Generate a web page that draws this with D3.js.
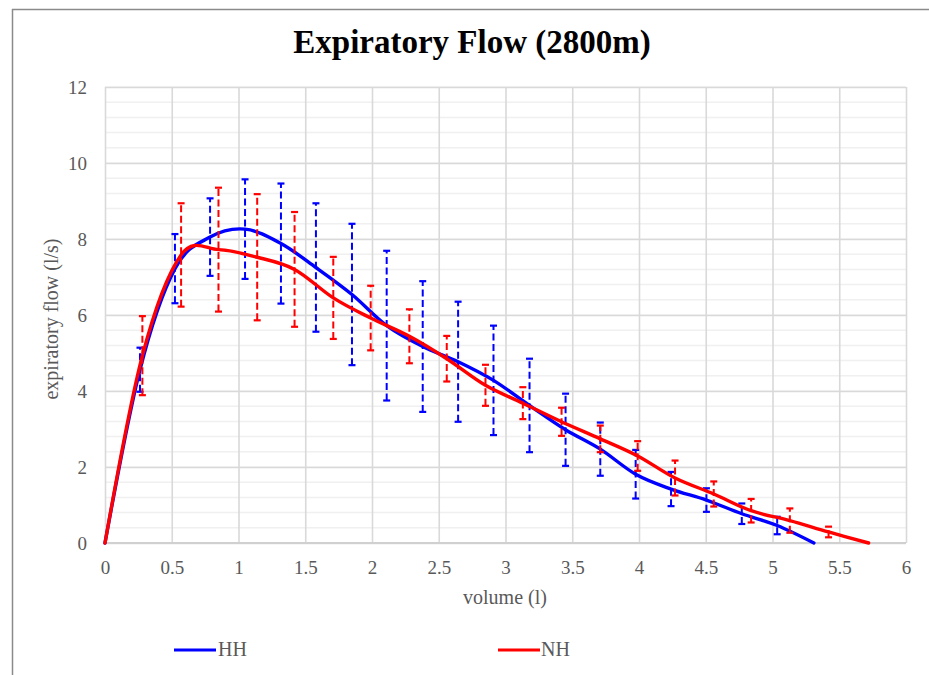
<!DOCTYPE html>
<html>
<head>
<meta charset="utf-8">
<script src="https://cdn.jsdelivr.net/npm/d3@7"></script>
<style>
  html, body { margin: 0; padding: 0; background: #fff; }
  svg { display: block; }
  svg text { font-family: "Liberation Serif", "Times New Roman", serif !important; }
</style>
</head>
<body>
<svg id="chart" width="929" height="675"></svg>
<script>
// ---- data ----
const hhVolume = [0, 0.262, 0.524, 0.787, 1.049, 1.318, 1.58, 1.85, 2.11, 2.38, 2.645, 2.91, 3.18, 3.45, 3.71, 3.975, 4.24, 4.505, 4.77, 5.035, 5.31];
const hhFlow   = [0, 4.56, 7.22, 8.05, 8.26, 7.88, 7.25, 6.54, 5.72, 5.17, 4.77, 4.28, 3.62, 2.98, 2.47, 1.81, 1.42, 1.13, 0.77, 0.46, 0];
const hhError  = [null, 0.58, 0.91, 1.02, 1.31, 1.58, 1.69, 1.86, 1.97, 1.72, 1.58, 1.44, 1.23, 0.95, 0.70, 0.64, 0.45, 0.31, 0.27, 0.23, null];

const nhVolume = [0, 0.28, 0.57, 0.85, 1.14, 1.42, 1.71, 1.99, 2.28, 2.56, 2.85, 3.13, 3.42, 3.71, 3.99, 4.27, 4.56, 4.84, 5.13, 5.42, 5.72];
const nhFlow   = [0, 4.93, 7.58, 7.72, 7.52, 7.20, 6.45, 5.92, 5.44, 4.85, 4.15, 3.68, 3.19, 2.74, 2.29, 1.71, 1.29, 0.85, 0.59, 0.29, 0];
const nhError  = [null, 1.04, 1.36, 1.63, 1.66, 1.51, 1.08, 0.85, 0.71, 0.60, 0.54, 0.42, 0.37, 0.35, 0.39, 0.46, 0.33, 0.31, 0.32, 0.14, null];

const xTicks = [0, 0.5, 1, 1.5, 2, 2.5, 3, 3.5, 4, 4.5, 5, 5.5, 6];
const yTicks = [0, 2, 4, 6, 8, 10, 12];
const yMinorTicks = d3.range(0, 12.0001, 0.4);

const series = [
  { name: "HH", x: hhVolume, y: hhFlow, e: hhError, color: "#0000ff" },
  { name: "NH", x: nhVolume, y: nhFlow, e: nhError, color: "#ff0000" }
];

// ---- layout ----
const FONT = "'Liberation Serif', 'Times New Roman', serif";
const svg = d3.select("#chart").attr("font-family", FONT);
const W = 929, H = 675;
const plot = { left: 105, right: 906, top: 87, bottom: 543 };

const x = d3.scaleLinear().domain([0, 6]).range([plot.left, plot.right]);
const y = d3.scaleLinear().domain([0, 12]).range([plot.bottom, plot.top]);

svg.append("rect").attr("width", W).attr("height", H).attr("fill", "#fff");

// outer border (top and left)
svg.append("line").attr("x1", 12).attr("x2", W).attr("y1", 9.5).attr("y2", 9.5)
  .attr("stroke", "#8a8a8a").attr("stroke-width", 1.5);
svg.append("line").attr("x1", 12.5).attr("x2", 12.5).attr("y1", 9).attr("y2", H)
  .attr("stroke", "#8a8a8a").attr("stroke-width", 1.5);

// minor horizontal gridlines
svg.append("g").selectAll("line").data(yMinorTicks).join("line")
  .attr("x1", plot.left).attr("x2", plot.right)
  .attr("y1", d => y(d)).attr("y2", d => y(d))
  .attr("stroke", "#f0f0f0").attr("stroke-width", 1.5);

// major gridlines via axes
const gx = svg.append("g").attr("transform", `translate(0,${plot.bottom})`)
  .call(d3.axisBottom(x).tickValues(xTicks).tickSize(-(plot.bottom - plot.top)).tickFormat(d3.format("")));
const gy = svg.append("g").attr("transform", `translate(${plot.left},0)`)
  .call(d3.axisLeft(y).tickValues(yTicks).tickSize(-(plot.right - plot.left)).tickFormat(d3.format("")));

[gx, gy].forEach(g => {
  g.attr("font-family", FONT).attr("font-size", 19);
  g.select(".domain").remove();
  g.selectAll(".tick line").attr("stroke", "#d9d9d9").attr("stroke-width", 1.6);
  g.selectAll(".tick text").attr("fill", "#595959");
});
gx.selectAll(".tick text").attr("dy", null).attr("y", 31);
gy.selectAll(".tick text").attr("x", -18).attr("dy", "0.33em");
// x-axis baseline slightly darker
svg.append("line").attr("x1", plot.left).attr("x2", plot.right)
  .attr("y1", y(0)).attr("y2", y(0)).attr("stroke", "#d0d0d0").attr("stroke-width", 2);

// ---- series ----
const line = d3.line().curve(d3.curveCatmullRom.alpha(0));
const capW = 3.5;

series.forEach(s => {
  const pts = s.x.map((v, i) => ({ vx: v, vy: s.y[i], e: s.e[i] }));
  const eb = pts.filter(p => p.e != null);
  const g = svg.append("g");
  // error bars
  g.selectAll("line.bar").data(eb).join("line").attr("class", "bar")
    .attr("x1", p => x(p.vx)).attr("x2", p => x(p.vx))
    .attr("y1", p => y(p.vy - p.e)).attr("y2", p => y(p.vy + p.e))
    .attr("stroke", s.color).attr("stroke-width", 2).attr("stroke-dasharray", "7,3.5");
  g.selectAll("line.capT").data(eb).join("line").attr("class", "capT")
    .attr("x1", p => x(p.vx) - capW).attr("x2", p => x(p.vx) + capW)
    .attr("y1", p => y(p.vy + p.e)).attr("y2", p => y(p.vy + p.e))
    .attr("stroke", s.color).attr("stroke-width", 2.2);
  g.selectAll("line.capB").data(eb).join("line").attr("class", "capB")
    .attr("x1", p => x(p.vx) - capW).attr("x2", p => x(p.vx) + capW)
    .attr("y1", p => y(p.vy - p.e)).attr("y2", p => y(p.vy - p.e))
    .attr("stroke", s.color).attr("stroke-width", 2.2);
  // line
  g.append("path")
    .attr("d", line(pts.map(p => [x(p.vx), y(p.vy)])))
    .attr("fill", "none").attr("stroke", s.color).attr("stroke-width", 3.4)
    .attr("stroke-linejoin", "round").attr("stroke-linecap", "round");
});

// ---- titles ----
svg.append("text").attr("x", 472).attr("y", 53).attr("text-anchor", "middle")
  .attr("font-size", 33).attr("font-weight", "bold").attr("fill", "#000")
  .text("Expiratory Flow (2800m)");

svg.append("text").attr("x", 505).attr("y", 604).attr("text-anchor", "middle")
  .attr("font-size", 20).attr("fill", "#595959").text("volume (l)");

svg.append("text").attr("transform", "translate(58,319) rotate(-90)")
  .attr("text-anchor", "middle")
  .attr("font-size", 20).attr("fill", "#595959").text("expiratory flow (l/s)");

// ---- legend ----
const legendPos = [{ lx: 174, tx: 218 }, { lx: 498, tx: 541 }];
series.forEach((s, i) => {
  const lp = legendPos[i];
  svg.append("line").attr("x1", lp.lx).attr("x2", lp.lx + 42).attr("y1", 650).attr("y2", 650)
    .attr("stroke", s.color).attr("stroke-width", 3.2);
  svg.append("text").attr("x", lp.tx).attr("y", 656)
    .attr("font-size", 20).attr("fill", "#595959").text(s.name);
});
</script>
</body>
</html>
